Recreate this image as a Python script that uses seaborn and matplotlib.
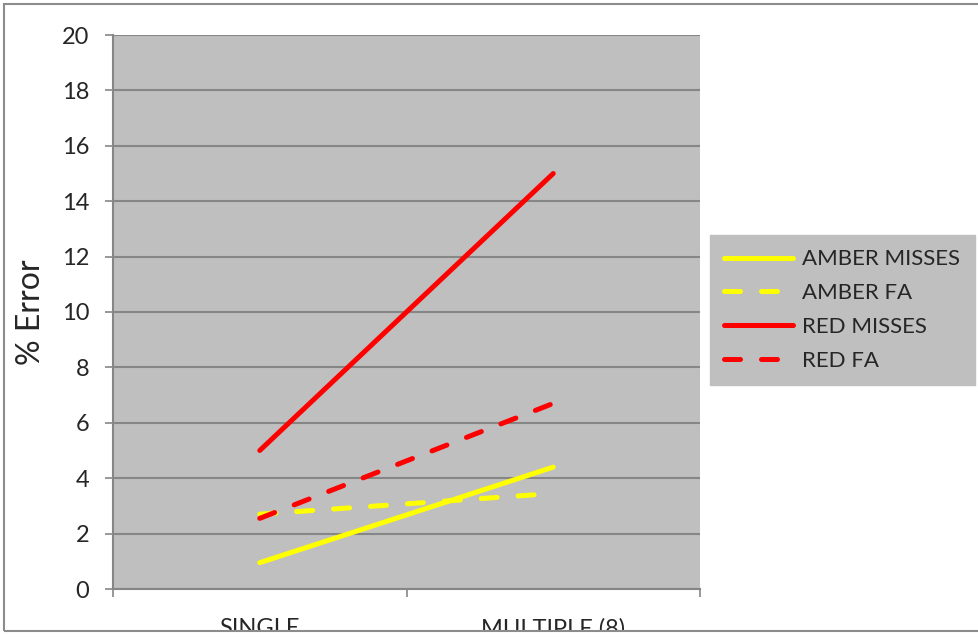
"""Error rate by display type: amber vs red misses and false alarms."""
import matplotlib
matplotlib.use("Agg")
import matplotlib.pyplot as plt
from matplotlib.patches import Rectangle
import pandas as pd
import seaborn as sns

# -- Data ----------------------------------------------------------------------
conditions = ["SINGLE", "MULTIPLE (8)"]
series_names = ["AMBER MISSES", "AMBER FA", "RED MISSES", "RED FA"]
amber_misses = [0.95, 4.4]
amber_fa = [2.7, 3.45]
red_misses = [5.0, 15.0]
red_fa = [2.55, 6.7]
y_ticks = list(range(0, 21, 2))

# -- Style ---------------------------------------------------------------------
sns.set_theme(style="white")
plt.rcParams["font.family"] = ["Lato", "DejaVu Sans"]

GREY_BG = "#bfbfbf"
GRID = "#868686"
palette = {"AMBER MISSES": "#ffff00", "AMBER FA": "#ffff00",
           "RED MISSES": "#ff0000", "RED FA": "#ff0000"}
dashes = {"AMBER MISSES": "", "AMBER FA": (3.2, 4.2),
          "RED MISSES": "", "RED FA": (3.2, 4.2)}

rows = []
for name, vals in zip(series_names, [amber_misses, amber_fa, red_misses, red_fa]):
    for cond, v in zip(conditions, vals):
        rows.append({"Condition": cond, "Error": v, "Series": name})
df = pd.DataFrame(rows)

fig = plt.figure(figsize=(9.79, 6.37), dpi=100)
ax = fig.add_axes([113 / 979, 1 - 589 / 637, 587 / 979, 554 / 637])
ax.set_facecolor(GREY_BG)

sns.lineplot(data=df, x="Condition", y="Error", hue="Series", style="Series",
             hue_order=series_names, style_order=series_names,
             palette=palette, dashes=dashes, linewidth=3.6, ax=ax,
             sort=False)
for line in ax.get_lines():
    line.set_solid_capstyle("round")
    line.set_dash_capstyle("round")

ax.set_xlim(-0.5, 1.5)
ax.set_ylim(0, 20)
ax.set_yticks(y_ticks)
ax.set_yticklabels([str(t) for t in y_ticks], fontsize=17)
ax.yaxis.grid(True, color=GRID, linewidth=1.5)
ax.set_axisbelow(True)
ax.tick_params(axis="y", left=True, length=6, width=1.2, color=GRID, pad=11)

# category boundaries get tick marks, labels sit between them
ax.set_xticks([-0.5, 0.5, 1.5])
ax.set_xticklabels(["", "", ""])
ax.set_xticks([0, 1], minor=True)
ax.set_xticklabels(conditions, minor=True, fontsize=17)
ax.tick_params(axis="x", which="major", bottom=True, length=6, width=1.2, color=GRID)
ax.tick_params(axis="x", which="minor", bottom=False, length=0, pad=21)

for side in ("top", "right"):
    ax.spines[side].set_visible(False)
for side in ("left", "bottom"):
    ax.spines[side].set_color(GRID)
    ax.spines[side].set_linewidth(1.5)

ax.set_xlabel("")
ax.set_ylabel("% Error", fontsize=23)
ax.yaxis.set_label_coords(-0.114, 0.5)

leg = ax.legend(loc="upper left", bbox_to_anchor=(710 / 979, 1 - 235 / 637),
                bbox_transform=fig.transFigure, fontsize=16, frameon=True,
                fancybox=False, framealpha=1, facecolor=GREY_BG, edgecolor=GREY_BG,
                handlelength=3.1, handletextpad=0.4, labelspacing=0.62,
                borderpad=0.65, borderaxespad=0)
for h in leg.get_lines():
    h.set_linewidth(3.6)
    h.set_solid_capstyle("round")
    h.set_dash_capstyle("round")

# chart border; anything below it is hidden (cut-off category labels)
fig.add_artist(Rectangle((0, 0), 1, 1 - 631 / 637, transform=fig.transFigure,
                         facecolor="white", edgecolor="none", zorder=10))
fig.add_artist(Rectangle((4 / 979, 1 - 631 / 637), 1.0, (631 - 4) / 637,
                         transform=fig.transFigure, facecolor="none",
                         edgecolor="#8c8c8c", linewidth=1.5, zorder=11))

fig.savefig("out.png", dpi=100)
